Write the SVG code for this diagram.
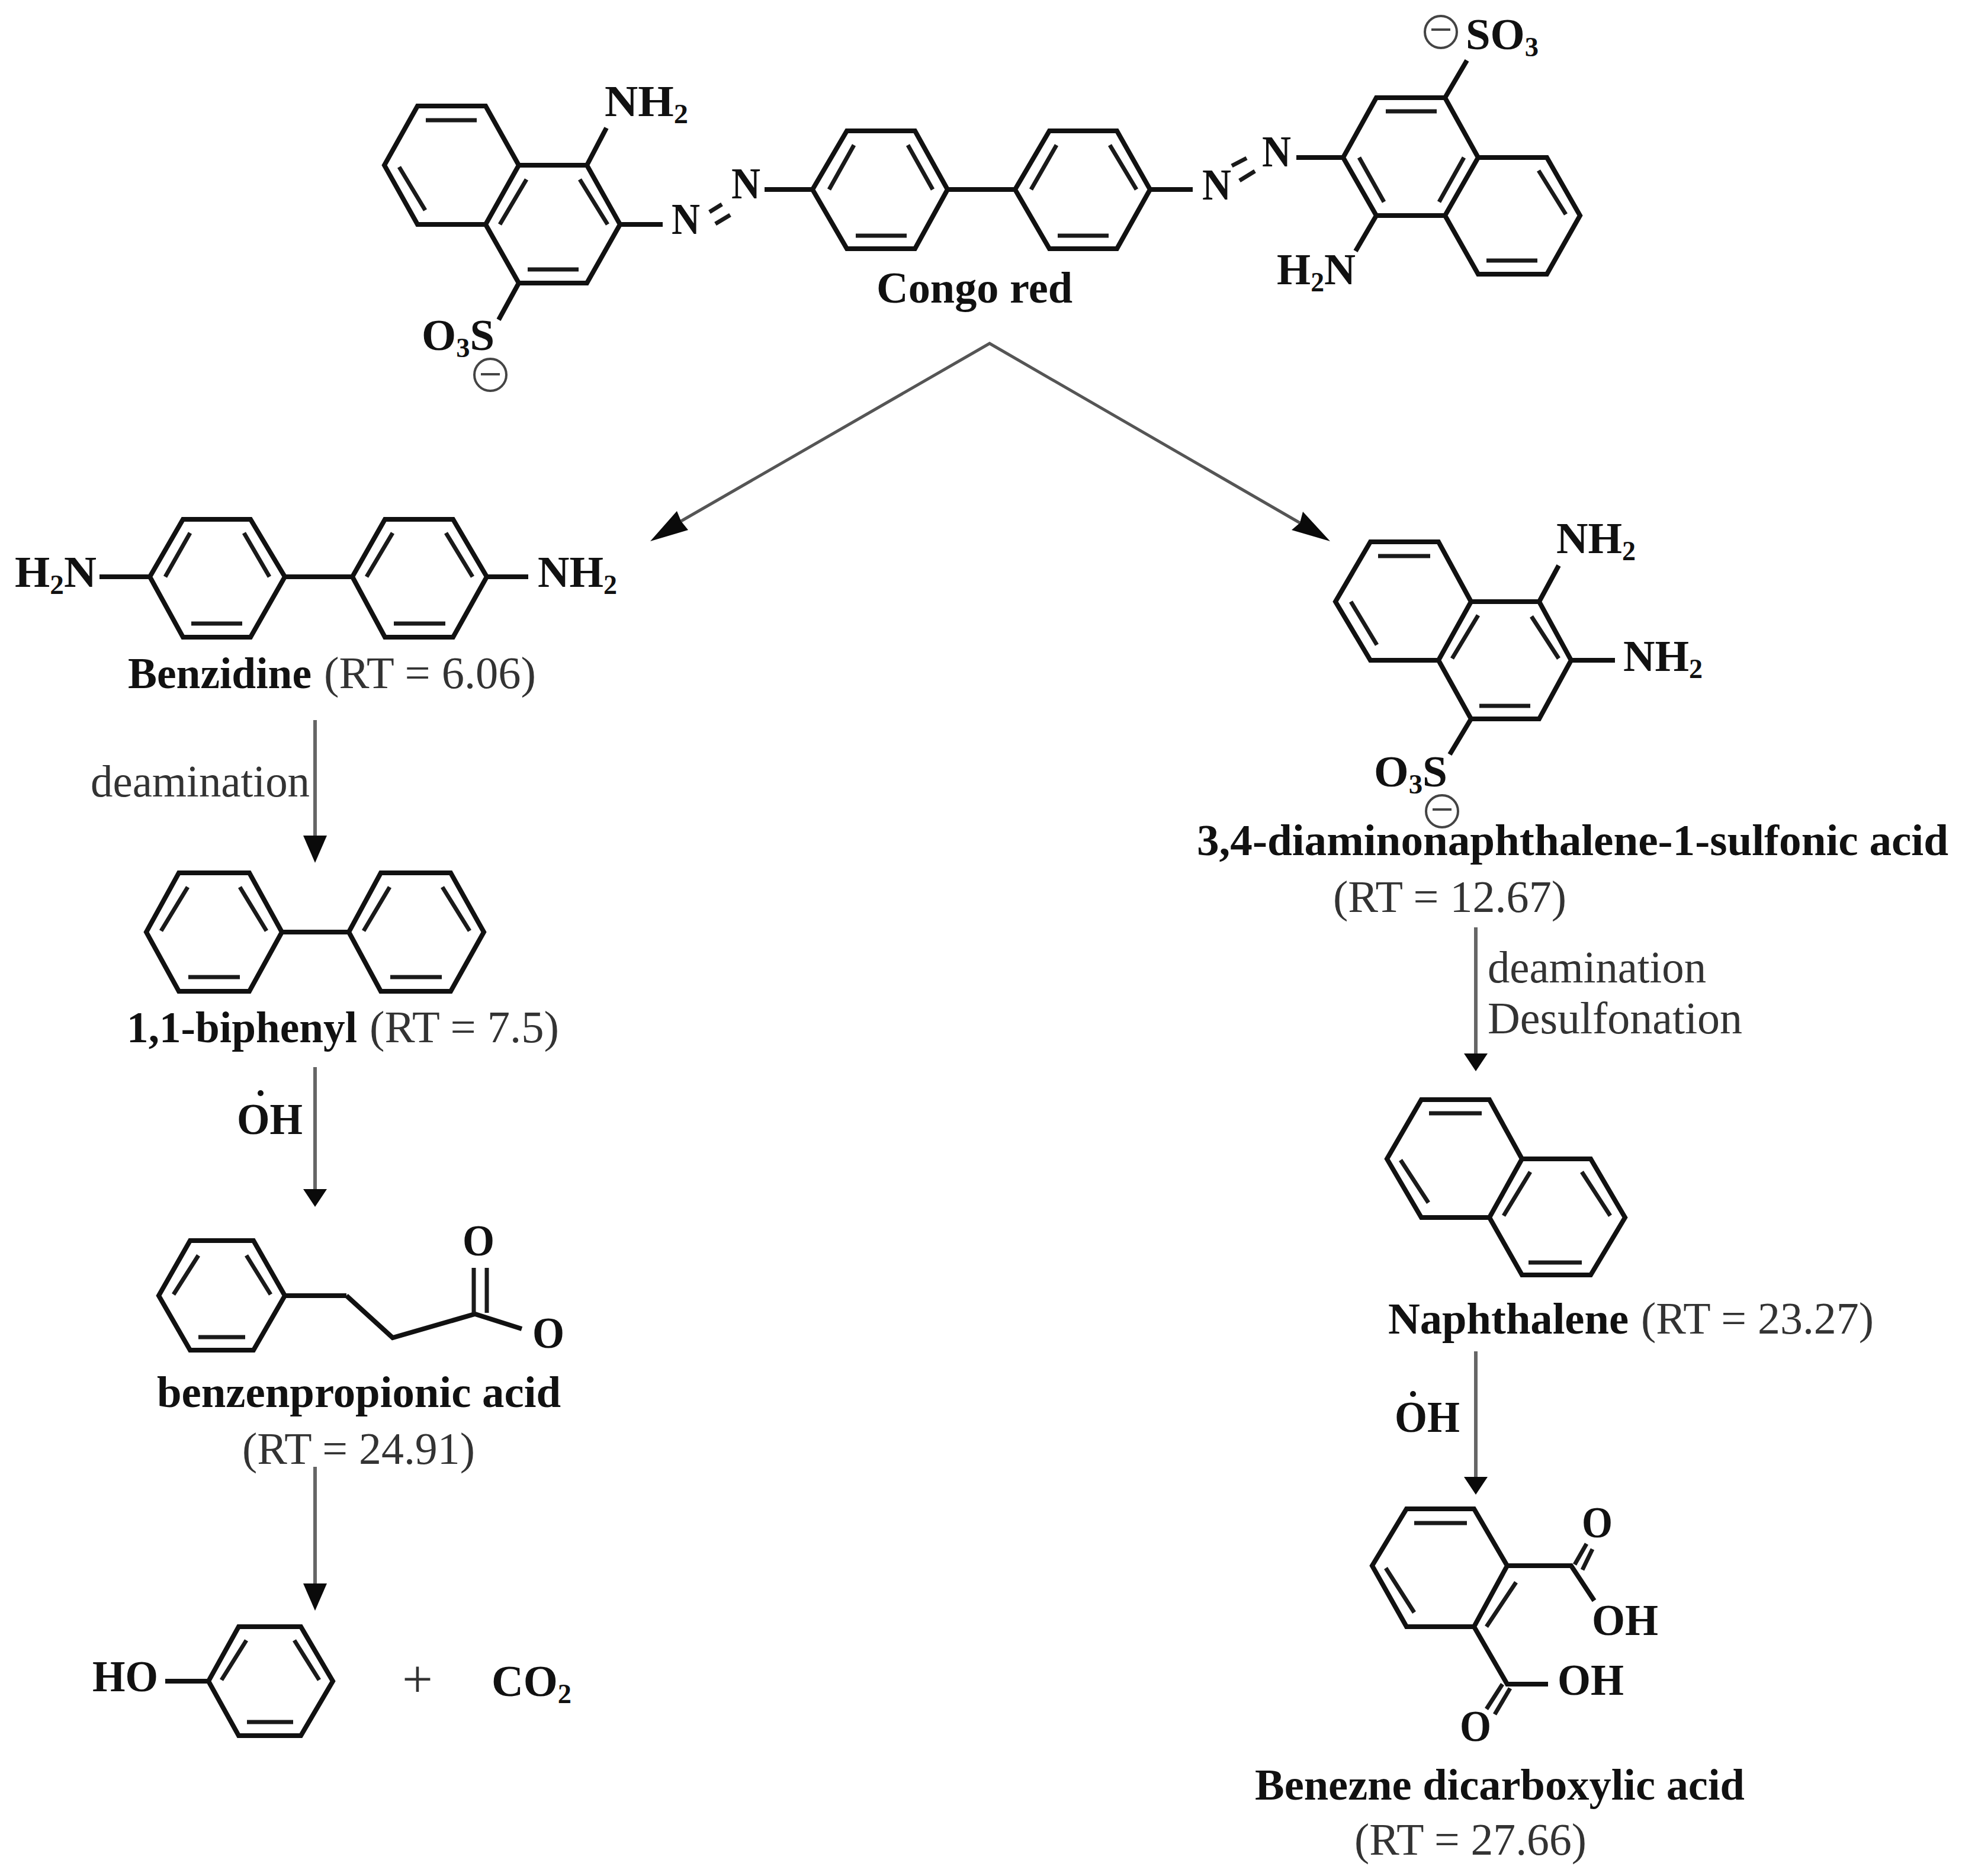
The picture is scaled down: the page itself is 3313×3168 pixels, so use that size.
<svg xmlns="http://www.w3.org/2000/svg" width="3313" height="3168" viewBox="0 0 3313 3168">
<style>
text{font-family:"Liberation Serif","Times New Roman",serif;font-size:74px;fill:#111}
.b{font-weight:bold}
.r{fill:#333;font-size:76px}
.s{font-size:46px}
.bond{fill:none;stroke:#111;stroke-width:8;stroke-linejoin:miter;stroke-linecap:butt}
.in{fill:none;stroke:#1a1a1a;stroke-width:7}
.charge{fill:none;stroke:#444;stroke-width:4}
.conn{fill:none;stroke:#666;stroke-width:6}
.diag{fill:none;stroke:#555;stroke-width:5}
</style>
<defs>
<marker id="head" markerUnits="userSpaceOnUse" markerWidth="46" markerHeight="40" viewBox="0 0 46 40" refX="1" refY="20" orient="auto"><path d="M0,0L46,20L0,40Z" fill="#0a0a0a"/></marker>
<marker id="head-s" markerUnits="userSpaceOnUse" markerWidth="30" markerHeight="40" viewBox="0 0 30 40" refX="1" refY="20" orient="auto"><path d="M0,0L30,20L0,40Z" fill="#0a0a0a"/></marker>
</defs>
<rect width="3313" height="3168" fill="#fff"/>

<g id="connectors">
<path class="diag" d="M1150,880L1671,580L2195,883"/>
<polygon points="1098,914 1143,863 1150,880 1162,895" fill="#0a0a0a"/>
<polygon points="2246,914 2200,864 2195,883 2181,895" fill="#0a0a0a"/>
<path class="conn" d="M532,1216V1412" marker-end="url(#head)"/>
<path class="conn" d="M532,1802V2009" marker-end="url(#head-s)"/>
<path class="conn" d="M532,2477V2675" marker-end="url(#head)"/>
<path class="conn" d="M2492,1566V1780" marker-end="url(#head-s)"/>
<path class="conn" d="M2492,2282V2495" marker-end="url(#head-s)"/>
</g>

<g id="congo-red">
<path class="bond" d="M876,279L820,179H705L649,279L705,379H820L876,279H991L1047,379L991,478H876L820,379M991,279L1024,216M1047,379H1119M876,478L842,540"/>
<path class="in" d="M719,203H805M674,282L718,355M889,303L844,379M979,303L1026,379M891,455H977"/>
<path class="bond" d="M1291,320H1372L1430,221H1545L1600,320L1545,420H1430L1372,320M1600,320H1714L1772,221H1886L1942,320L1886,420H1772L1714,320M1942,320H2014"/>
<path class="in" d="M1442,245L1400,320M1533,245L1575,320M1445,398H1531M1784,245L1741,320M1874,245L1919,320M1786,398H1872M1198,358L1219,345M1208,378L1233,363M2080,280L2105,267M2093,305L2119,289"/>
<path class="bond" d="M2189,266H2268L2324,165H2440L2496,266L2440,364H2324L2268,266M2496,266H2612L2668,364L2612,463H2496L2440,364M2440,165L2477,102M2324,364L2289,424"/>
<path class="in" d="M2340,188H2426M2295,266L2337,341M2472,266L2430,341M2598,288L2644,362M2510,440H2596"/>
<text class="b" x="1021" y="196" textLength="141" lengthAdjust="spacingAndGlyphs">NH<tspan class="s" dy="12">2</tspan></text>
<text class="b" x="1134" y="395" textLength="48" lengthAdjust="spacingAndGlyphs">N</text>
<text class="b" x="1235" y="335" textLength="49" lengthAdjust="spacingAndGlyphs">N</text>
<text class="b" x="2030" y="337" textLength="49" lengthAdjust="spacingAndGlyphs">N</text>
<text class="b" x="2131" y="281" textLength="49" lengthAdjust="spacingAndGlyphs">N</text>
<text class="b" x="712" y="591" textLength="123" lengthAdjust="spacingAndGlyphs">O<tspan class="s" dy="12">3</tspan><tspan dy="-12">S</tspan></text>
<circle class="charge" cx="828" cy="633" r="27"/><path class="charge" d="M812,632H844"/>
<text class="b" x="2475" y="83" textLength="123" lengthAdjust="spacingAndGlyphs">SO<tspan class="s" dy="12">3</tspan></text>
<circle class="charge" cx="2433" cy="54" r="27"/><path class="charge" d="M2417,50H2449"/>
<text class="b" x="2156" y="480" textLength="133" lengthAdjust="spacingAndGlyphs">H<tspan class="s" dy="12">2</tspan><tspan dy="-12">N</tspan></text>
<text class="b" x="1480" y="511" textLength="331" lengthAdjust="spacingAndGlyphs">Congo red</text>
</g>

<g id="benzidine">
<path class="bond" d="M168,974H253L309,877H423L481,974L423,1076H309L253,974M481,974H595L650,877H765L822,974L765,1076H650L595,974M822,974H892"/>
<path class="in" d="M321,900L279,974M412,900L455,974M323,1053H409M663,900L619,974M753,900L798,974M665,1053H752"/>
<text class="b" x="25" y="991" textLength="138" lengthAdjust="spacingAndGlyphs">H<tspan class="s" dy="12">2</tspan><tspan dy="-12">N</tspan></text>
<text class="b" x="908" y="991" textLength="134" lengthAdjust="spacingAndGlyphs">NH<tspan class="s" dy="12">2</tspan></text>
<text class="b" x="216" y="1162" textLength="310" lengthAdjust="spacingAndGlyphs">Benzidine</text>
<text class="r" x="547" y="1162" textLength="358" lengthAdjust="spacingAndGlyphs">(RT = 6.06)</text>
</g>

<g id="label-deamination-1"><text class="r" x="153" y="1345" textLength="370" lengthAdjust="spacingAndGlyphs">deamination</text></g>

<g id="biphenyl">
<path class="bond" d="M476,1574L421,1474H302L247,1574L302,1674H421L476,1574H589L643,1474H761L817,1574L761,1674H643L589,1574"/>
<path class="in" d="M317,1498L272,1572M405,1498L450,1572M318,1650H405M658,1498L614,1572M747,1498L793,1572M659,1650H746"/>
<text class="b" x="214" y="1760" textLength="389" lengthAdjust="spacingAndGlyphs">1,1-biphenyl</text>
<text class="r" x="624" y="1760" textLength="320" lengthAdjust="spacingAndGlyphs">(RT = 7.5)</text>
</g>

<g id="label-oh-1"><text class="b" x="400" y="1915" textLength="111" lengthAdjust="spacingAndGlyphs">OH</text><circle cx="440" cy="1846" r="5" fill="#111"/></g>

<g id="benzenpropionic-acid">
<path class="bond" d="M585,2188H481L428,2095H321L268,2188L321,2280H428L481,2188M585,2188L663,2259L802,2219L881,2244"/>
<path class="in" d="M335,2120L293,2186M416,2120L457,2186M335,2258H414M800,2141V2217M822,2141V2217"/>
<text class="b" x="781" y="2120" textLength="54" lengthAdjust="spacingAndGlyphs">O</text>
<text class="b" x="899" y="2276" textLength="54" lengthAdjust="spacingAndGlyphs">O</text>
<text class="b" x="265" y="2376" textLength="682" lengthAdjust="spacingAndGlyphs">benzenpropionic acid</text>
<text class="r" x="409" y="2472" textLength="393" lengthAdjust="spacingAndGlyphs">(RT = 24.91)</text>
</g>

<g id="phenol">
<path class="bond" d="M279,2839H352L403,2747H508L562,2839L508,2931H403L352,2839"/>
<path class="in" d="M416,2770L374,2837M497,2770L539,2837M417,2908H495"/>
<text class="b" x="156" y="2856" textLength="111" lengthAdjust="spacingAndGlyphs">HO</text>
</g>
<g id="plus"><text class="r" x="705" y="2866" text-anchor="middle" style="font-size:92px">+</text></g>
<g id="co2"><text class="b" x="830" y="2864" textLength="135" lengthAdjust="spacingAndGlyphs">CO<tspan class="s" dy="12">2</tspan></text></g>

<g id="diaminonaphthalene-sulfonic-acid">
<path class="bond" d="M2484,1016L2429,915H2314L2255,1016L2314,1115H2429L2484,1016H2599L2653,1115L2599,1214H2484L2429,1115M2599,1016L2632,955M2653,1115H2727M2484,1214L2448,1274"/>
<path class="in" d="M2327,939H2415M2281,1016L2325,1089M2496,1039L2452,1112M2586,1041L2632,1112M2498,1192H2584"/>
<text class="b" x="2628" y="934" textLength="134" lengthAdjust="spacingAndGlyphs">NH<tspan class="s" dy="12">2</tspan></text>
<text class="b" x="2741" y="1133" textLength="134" lengthAdjust="spacingAndGlyphs">NH<tspan class="s" dy="12">2</tspan></text>
<text class="b" x="2320" y="1328" textLength="124" lengthAdjust="spacingAndGlyphs">O<tspan class="s" dy="12">3</tspan><tspan dy="-12">S</tspan></text>
<circle class="charge" cx="2435" cy="1370" r="27"/><path class="charge" d="M2419,1367H2451"/>
<text class="b" x="2021" y="1444" textLength="1269" lengthAdjust="spacingAndGlyphs">3,4-diaminonaphthalene-1-sulfonic acid</text>
<text class="r" x="2251" y="1540" textLength="394" lengthAdjust="spacingAndGlyphs">(RT = 12.67)</text>
</g>

<g id="label-deamination-2">
<text class="r" x="2512" y="1659" textLength="369" lengthAdjust="spacingAndGlyphs">deamination</text>
<text class="r" x="2512" y="1745" textLength="430" lengthAdjust="spacingAndGlyphs">Desulfonation</text>
</g>

<g id="naphthalene">
<path class="bond" d="M2570,1957L2515,1857H2400L2342,1957L2400,2056H2515L2570,1957H2686L2744,2056L2686,2153H2570L2515,2056"/>
<path class="in" d="M2413,1880H2502M2365,1959L2412,2031M2584,1979L2539,2053M2671,1979L2719,2053M2581,2132H2671"/>
<text class="b" x="2344" y="2252" textLength="406" lengthAdjust="spacingAndGlyphs">Naphthalene</text>
<text class="r" x="2771" y="2252" textLength="393" lengthAdjust="spacingAndGlyphs">(RT = 23.27)</text>
</g>

<g id="label-oh-2"><text class="b" x="2355" y="2418" textLength="110" lengthAdjust="spacingAndGlyphs">OH</text><circle cx="2386" cy="2354" r="5" fill="#111"/></g>

<g id="benzene-dicarboxylic-acid">
<path class="bond" d="M2545,2644L2489,2548H2375L2317,2644L2375,2747H2489L2545,2644H2653L2692,2703M2489,2747L2545,2844H2614"/>
<path class="in" d="M2388,2572H2477M2340,2648L2388,2723M2560,2672L2510,2747M2659,2642L2679,2607M2672,2651L2689,2616M2537,2844L2510,2886M2550,2851L2524,2895"/>
<text class="b" x="2671" y="2596" textLength="52" lengthAdjust="spacingAndGlyphs">O</text>
<text class="b" x="2688" y="2761" textLength="112" lengthAdjust="spacingAndGlyphs">OH</text>
<text class="b" x="2630" y="2862" textLength="112" lengthAdjust="spacingAndGlyphs">OH</text>
<text class="b" x="2465" y="2940" textLength="53" lengthAdjust="spacingAndGlyphs">O</text>
<text class="b" x="2119" y="3039" textLength="827" lengthAdjust="spacingAndGlyphs">Benezne dicarboxylic acid</text>
<text class="r" x="2287" y="3132" textLength="392" lengthAdjust="spacingAndGlyphs">(RT = 27.66)</text>
</g>
</svg>
